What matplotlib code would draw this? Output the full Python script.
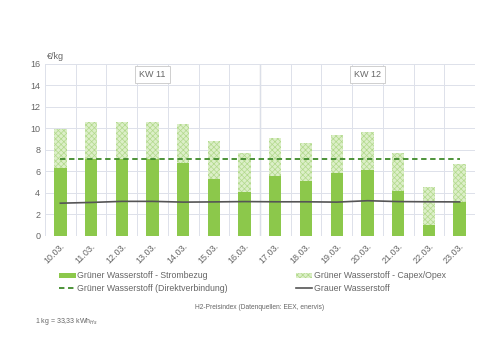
import matplotlib.pyplot as plt
import numpy as np
from matplotlib.patches import Patch
from matplotlib.lines import Line2D

days = ["10.03.", "11.03.", "12.03.", "13.03.", "14.03.", "15.03.", "16.03.",
        "17.03.", "18.03.", "19.03.", "20.03.", "21.03.", "22.03.", "23.03."]
strom = [6.33, 7.2, 7.15, 7.2, 6.83, 5.27, 4.1, 5.58, 5.09, 5.86, 6.11, 4.19, 1.0, 3.17]
total = [9.93, 10.6, 10.6, 10.6, 10.39, 8.81, 7.69, 9.15, 8.66, 9.43, 9.68, 7.75, 4.56, 6.73]
capex = [t - s for t, s in zip(total, strom)]
direkt = 7.16
grau = [3.05, 3.12, 3.22, 3.22, 3.15, 3.17, 3.2, 3.18, 3.18, 3.15, 3.28, 3.2, 3.18, 3.17]
weeks = ["KW 11", "KW 12"]

green = "#8cc84b"
light = "#dcefc8"
hatchc = "#b2d98c"
txt = "#666666"
grid = "#dde1ea"

plt.rcParams["hatch.linewidth"] = 0.5
plt.rcParams["font.family"] = ["Liberation Sans", "DejaVu Sans"]

fig = plt.figure(figsize=(5, 3.45), dpi=100)
ax = fig.add_axes([0.09, 0.316, 0.86, 0.4986])

x = np.arange(len(days))
ax.bar(x, strom, width=0.4, color=green, zorder=3)
ax.bar(x, capex, bottom=strom, width=0.4, facecolor=light, edgecolor=hatchc,
       hatch="xxxxxx", linewidth=0, zorder=3)
ax.plot([x[0], x[-1]], [direkt, direkt], color="#3f8a2a", ls=(0, (3, 2)), lw=1.3, zorder=4)
ax.plot(x, grau, color="#555555", lw=1.2, zorder=4)

ax.set_xlim(-0.5, len(days) - 0.5)
ax.set_ylim(0, 16)
ax.set_yticks(range(0, 17, 2))
ax.set_xticks(x)
ax.set_xticklabels(days, rotation=45, ha="right", rotation_mode="anchor")
ax.set_xticks(np.arange(-0.5, len(days), 1), minor=True)
ax.tick_params(which="both", length=0, colors=txt, labelsize=6.5)
ax.tick_params(axis="x", pad=4)
ax.grid(axis="y", color=grid, lw=0.7, zorder=0)
ax.grid(axis="x", which="minor", color=grid, lw=0.7, zorder=0)
for s in ax.spines.values():
    s.set_visible(False)
ax.axvline(6.5, color="#b8bcc6", lw=0.9, zorder=1)

for i, w in enumerate(weeks):
    ax.text(3 + 7 * i, 15.05, w, ha="center", va="center", fontsize=6.5, color=txt,
            bbox=dict(boxstyle="square,pad=0.45", fc="white", ec="#c8c8c8", lw=0.6), zorder=5)

fig.text(0.094, 0.835, "€/kg", fontsize=6.5, color=txt, va="center")

handles = [Patch(facecolor=green, edgecolor="none"),
           Line2D([], [], color="#3f8a2a", ls=(0, (3, 2)), lw=1.3),
           Patch(facecolor=light, edgecolor=hatchc, hatch="xxxxxx", linewidth=0),
           Line2D([], [], color="#555555", lw=1.2)]
labels = ["Grüner Wasserstoff - Strombezug", "Grüner Wasserstoff (Direktverbindung)",
          "Grüner Wasserstoff - Capex/Opex", "Grauer Wasserstoff"]
leg = fig.legend(handles, labels, ncol=2, loc="center left", bbox_to_anchor=(0.102, 0.182),
                 frameon=False, fontsize=6.3, handlelength=1.9, handletextpad=0.15,
                 columnspacing=7.8, labelspacing=0.45, handleheight=0.5)
for t in leg.get_texts():
    t.set_color(txt)

fig.text(0.52, 0.11, "H2-Preisindex (Datenquellen: EEX, enervis)", fontsize=4.8, color=txt,
         ha="center", va="center")
fig.text(0.07, 0.067, "1 kg = 33,33 kWh$_{Hs}$", fontsize=5, color=txt, va="center")

fig.savefig("out.png", dpi=100)
